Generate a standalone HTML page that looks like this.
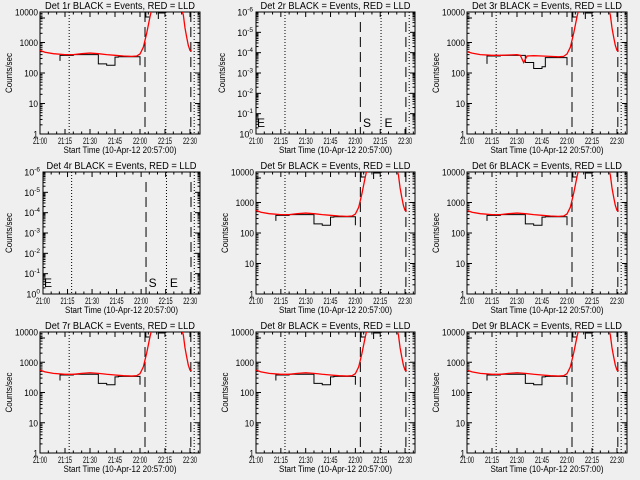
<!DOCTYPE html>
<html><head><meta charset="utf-8"><style>
html,body{margin:0;padding:0;background:#efefef;}
svg{display:block;font-family:"Liberation Sans",sans-serif;}
</style></head><body>
<svg id="c" width="640" height="480" viewBox="0 0 640 480"></svg>
<script>
// ---- data ----
const panelTitles = ["Det 1r","Det 2r","Det 3r","Det 4r","Det 5r","Det 6r","Det 7r","Det 8r","Det 9r"];
const emptyPanels = [1,3];
const xTickMinutes = [0,15,30,45,60,75,90];
const xTickLabels = ["21:00","21:15","21:30","21:45","22:00","22:15","22:30"];
const yTickValues = [1,10,100,1000,10000];
const yTickLabels = ["1","10","100","1000","10000"];
const emptyYExp = [0,-1,-2,-3,-4,-5,-6];
const redTimes = [0,3,8,15,20,25,30,35,40,45,50,55,58,60,62,64,66,67];
const redValues = [550,480,430,400,400,430,450,430,400,380,360,350,360,420,700,2000,7000,12000];
const redTimes3 = [0,3,8,15,20,25,30,32,34,36,40,45,50,55,58,60,62,64,66,67];
const redValues3 = [500,450,400,380,380,390,400,380,220,360,370,360,350,340,350,420,700,2000,7000,12000];
const redFallTimes = [85,86,87,88,89,90,91];
const redFallValues = [12000,8000,3000,1500,800,550,520];
const blackStart = [12,12,20,35,40,45,47];
const blackEnd = [12,20,35,40,45,47,60];
const blackValues = [250,380,400,200,180,330,340];
const blackValues3 = [200,360,380,220,140,160,320];
const blackDrop = 180;
const dottedTimes = [17.5,75.5,92.5];
const dashedTimes = [63,90.5];

// ---- layout ----
const NS="http://www.w3.org/2000/svg";
const svg=document.getElementById('c');
function mk(tag,attrs,parent){const e=document.createElementNS(NS,tag);for(const k in attrs)e.setAttribute(k,attrs[k]);(parent||svg).appendChild(e);return e;}
const colLeft=[40,256,467], colRight=[200,415,627], rowTop=[12,172,332], rowBot=[134,294,453];
const FIT={lengthAdjust:'spacingAndGlyphs'};

for(let p=0;p<9;p++){
  const r=Math.floor(p/3), c=p%3;
  const empty=emptyPanels.includes(p);
  const L=colLeft[c]+(empty&&c===0?3:0), R=colRight[c], T=rowTop[r], B=rowBot[r];
  const g=mk('g',{});
  
  
  const xs=t=>L+(t/96)*(R-L);
  const ys=v=>B-(Math.log10(v)/4)*(B-T);
  const ysE=e=>B-(-e/6)*(B-T);
  const clipId='cl'+p;
  const cp=mk('clipPath',{id:clipId},g);mk('rect',{x:L,y:T,width:R-L,height:B-T},cp);
  // title
  const ti=mk('text',{x:(L+R)/2,y:T-3,'text-anchor':'middle','font-size':'10',textLength:150,lengthAdjust:'spacingAndGlyphs'},g);
  ti.textContent=panelTitles[p]+" BLACK = Events, RED = LLD";
  
  // frame
  const fr=mk('rect',{x:L,y:T,width:R-L,height:B-T,fill:'none',stroke:'#000','stroke-width':1},g);
  
  // x ticks
  xTickMinutes.forEach((m,i)=>{
    const x=xs(m);
    mk('line',{x1:x,x2:x,y1:B,y2:B-5,stroke:'#000'},g);
    mk('line',{x1:x,x2:x,y1:T,y2:T+5,stroke:'#000'},g);
    const tx=mk('text',{x:x,y:B+10,'text-anchor':'middle','font-size':'9',textLength:14,lengthAdjust:'spacingAndGlyphs'},g);
    tx.textContent=xTickLabels[i];
    
  });
  for(let m=5;m<96;m+=5){if(m%15){const x=xs(m);mk('line',{x1:x,x2:x,y1:B,y2:B-2.5,stroke:'#000'},g);mk('line',{x1:x,x2:x,y1:T,y2:T+2.5,stroke:'#000'},g);}}
  const xl=mk('text',{x:(L+R)/2,y:B+19,'text-anchor':'middle','font-size':'9.5',textLength:113,lengthAdjust:'spacingAndGlyphs'},g);
  xl.textContent="Start Time (10-Apr-12 20:57:00)";
  
  const yl=mk('text',{x:0,y:0,'text-anchor':'middle','font-size':'9',textLength:40,lengthAdjust:'spacingAndGlyphs',transform:`translate(${(empty?L-3:L)-28},${(T+B)/2}) rotate(-90)`},g);
  yl.textContent="Counts/sec";
  
  // y ticks
  if(!empty){
    yTickValues.forEach((v,i)=>{
      const y=ys(v);
      mk('line',{x1:L,x2:L+5,y1:y,y2:y,stroke:'#000'},g);mk('line',{x1:R,x2:R-5,y1:y,y2:y,stroke:'#000'},g);
      const t=mk('text',{x:L-2,y:y+3.5,'text-anchor':'end','font-size':'9',textLength:yTickLabels[i].length*4.6,lengthAdjust:'spacingAndGlyphs'},g);t.textContent=yTickLabels[i];
      
      if(i<4)for(let k=2;k<10;k++){const yy=ys(v*k);mk('line',{x1:L,x2:L+2.5,y1:yy,y2:yy,stroke:'#000'},g);mk('line',{x1:R,x2:R-2.5,y1:yy,y2:yy,stroke:'#000'},g);}
    });
  } else {
    emptyYExp.forEach(e=>{
      const y=ysE(e);
      mk('line',{x1:L,x2:L+5,y1:y,y2:y,stroke:'#000'},g);mk('line',{x1:R,x2:R-5,y1:y,y2:y,stroke:'#000'},g);
      const t=mk('text',{x:L-3,y:y+3.5,'text-anchor':'end','font-size':'9'},g);
      t.innerHTML='10<tspan dy="-4" font-size="6.5">'+e+'</tspan>';
      
      if(e>-6)for(let k=2;k<10;k++){const yy=y-Math.log10(k)*(B-T)/6;mk('line',{x1:L,x2:L+2.5,y1:yy,y2:yy,stroke:'#000'},g);mk('line',{x1:R,x2:R-2.5,y1:yy,y2:yy,stroke:'#000'},g);}
    });
  }
  const pg=mk('g',{'clip-path':`url(#${clipId})`},g);
  // vertical lines
  dottedTimes.forEach(t=>{const l=mk('line',{x1:xs(t),x2:xs(t),y1:T,y2:B,stroke:'#000','stroke-dasharray':'1,2'},pg);});
  dashedTimes.forEach(t=>{const l=mk('line',{x1:xs(t),x2:xs(t),y1:empty?T+10:T,y2:B,stroke:'#000','stroke-dasharray':'10,5'},pg);});
  if(empty){
    [[0,'E'],[64,'S'],[77,'E']].forEach(([t,s])=>{const tx=mk('text',{x:xs(t)+1,y:B-7,'font-size':'12'},pg);tx.textContent=s;});
  } else {
    const rt=p===2?redTimes3:redTimes, rv=p===2?redValues3:redValues, bv=p===2?blackValues3:blackValues;
    let d='';
    blackStart.forEach((s,i)=>{d+=(i===0?'M':'L')+xs(s)+','+ys(bv[i])+'L'+xs(blackEnd[i])+','+ys(bv[i]);});
    d+='L'+xs(60)+','+ys(blackDrop);
    const bl=mk('path',{d:d,fill:'none',stroke:'#000','stroke-width':1},pg);
    
    mk('path',{d:`M${xs(0)},${T+6}H${xs(3)}M${xs(0)},${T}V${T+6}M${xs(63.5)},${T}V${T+5}H${xs(66)}M${xs(71)},${T+7}V${T+1}H${xs(75)}`,fill:'none',stroke:'#000'},pg);
    const rp=mk('path',{d:rt.map((t,i)=>(i?'L':'M')+xs(t)+','+ys(rv[i])).join(''),fill:'none',stroke:'#f00','stroke-width':1.3},pg);
    
    const rf=mk('path',{d:redFallTimes.map((t,i)=>(i?'L':'M')+xs(t)+','+ys(redFallValues[i])).join(''),fill:'none',stroke:'#f00','stroke-width':1.3},pg);
    
  }
}
</script>
</body></html>
